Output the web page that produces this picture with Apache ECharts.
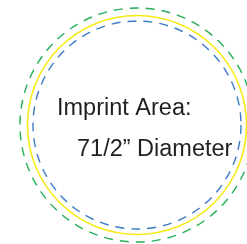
<!DOCTYPE html>
<html>
<head>
<meta charset="utf-8">
<script src="https://cdn.jsdelivr.net/npm/echarts@6/dist/echarts.min.js"></script>
<style>
  html, body { margin: 0; padding: 0; background: #fff; }
  #main { width: 247px; height: 244px; }
</style>
</head>
<body>
<div id="main"></div>
<script>
// rings, radius in inches (imprint area is 7 1/2" across)
const ringNames = ['bleed', 'trim', 'imprint'];
const ringRadius = [4.22, 3.95, 3.75];
const ringColors = ['#25b05a', '#f5ea18', '#3b7cc4'];
const ringDashed = [true, false, true];
const labelLines = ['Imprint Area:', '71/2\u201d Diameter'];

const pxPerInch = 104 / 3.75;
const cx = 137, cy = 125;

const chart = echarts.init(document.getElementById('main'));

const option = {
    animation: false,
    grid: { left: 0, top: 0, width: 247, height: 244 },
    xAxis: { type: 'value', min: -cx / pxPerInch, max: (247 - cx) / pxPerInch, show: false },
    yAxis: { type: 'value', min: -(244 - cy) / pxPerInch, max: cy / pxPerInch, show: false },
    series: [{
        type: 'custom',
        data: ringRadius.map((r, i) => [0, 0, r, i]),
        renderItem: function(params, api) {
            const c = api.coord([api.value(0), api.value(1)]);
            const r = api.size([api.value(2), 0])[0];
            const i = api.value(3);
            return {
                type: 'circle',
                shape: { cx: c[0], cy: c[1], r: r },
                style: {
                    fill: 'none',
                    stroke: ringColors[i],
                    lineWidth: ringDashed[i] ? 1.4 : 1.6,
                    lineDash: ringDashed[i] ? [9, 7] : null
                }
            };
        }
    }],
    graphic: [{
        type: 'text',
        left: 57,
        top: 97,
        style: {
            text: labelLines[0],
            font: '23.5px "Liberation Sans", Arial, sans-serif',
            fill: '#231f20'
        }
    }, {
        type: 'text',
        left: 77,
        top: 138,
        style: {
            text: labelLines[1],
            font: '23.5px "Liberation Sans", Arial, sans-serif',
            fill: '#231f20'
        }
    }]
};
chart.setOption(option);
</script>
</body>
</html>
